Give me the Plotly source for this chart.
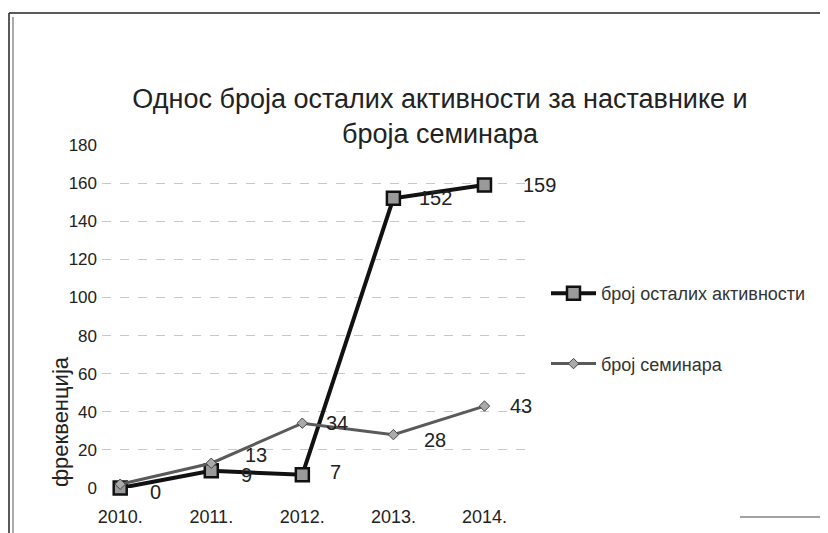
import plotly.graph_objects as go

years = ["2010.", "2011.", "2012.", "2013.", "2014."]
activities = [0, 9, 7, 152, 159]
seminars = [2, 13, 34, 28, 43]
activities_labels = ["0", "9", "7", "152", "159"]
seminars_labels = ["", "13", "34", "28", "43"]
y_ticks = [0, 20, 40, 60, 80, 100, 120, 140, 160, 180]

# label offsets (pixels) from each point
act_shift = [(35, -4), (35, -4), (33, 3), (42, 0), (55, 0)]
sem_shift = [(35, 0), (45, 8), (35, 0), (42, -5), (37, 0)]

W, H = 828, 533
OFF = 8  # page body margin: figure starts 8px in from the page corner
L, R, T, B = 102 - OFF, 530 - OFF, 145 - OFF, 488 - OFF


def px_x(p):
    return (p - OFF - L) / (R - L)


def px_y(p):
    return (B - (p - OFF)) / (B - T)


FONT = "Liberation Sans, Arial"

fig = go.Figure()
fig.add_trace(go.Scatter(
    x=years, y=activities, name="број осталих активности",
    mode="lines+markers",
    line=dict(color="#111", width=4),
    marker=dict(symbol="square", size=13, color="#9a9a9a", line=dict(color="#111", width=2.5)),
    legendgroup="a", cliponaxis=False,
))
fig.add_trace(go.Scatter(
    x=years, y=seminars, name="број семинара",
    mode="lines+markers",
    line=dict(color="#5a5a5a", width=3),
    marker=dict(symbol="diamond", size=8, color="#aaa", line=dict(color="#444", width=1)),
    legendgroup="b", cliponaxis=False,
))

annotations = []
for ys, labels, shifts in [(activities, activities_labels, act_shift),
                           (seminars, seminars_labels, sem_shift)]:
    for i, (yv, lab, (dx, dy)) in enumerate(zip(ys, labels, shifts)):
        if not lab:
            continue
        annotations.append(dict(
            x=i, y=yv, xref="x", yref="y", text=lab, showarrow=False,
            xanchor="center", yanchor="middle", xshift=dx, yshift=dy,
            font=dict(family=FONT, size=20, color="#222"),
        ))

annotations.append(dict(
    text="фреквенција", xref="paper", yref="paper", x=px_x(60), y=px_y(422),
    xanchor="center", yanchor="middle", textangle=-90, showarrow=False,
    font=dict(family=FONT, size=22, color="#222"),
))

shapes = [
    dict(type="line", xref="paper", yref="paper", x0=px_x(9), x1=px_x(9), y0=px_y(13), y1=px_y(541),
         line=dict(color="#222", width=1.5)),
    dict(type="line", xref="paper", yref="paper", x0=px_x(13), x1=px_x(13), y0=px_y(17), y1=px_y(541),
         line=dict(color="#555", width=1)),
    dict(type="line", xref="paper", yref="paper", x0=px_x(9), x1=px_x(840), y0=px_y(13), y1=px_y(13),
         line=dict(color="#222", width=1.5)),
    dict(type="line", xref="paper", yref="paper", x0=px_x(740), x1=px_x(840), y0=px_y(517), y1=px_y(517),
         line=dict(color="#444", width=1)),
]

fig.update_layout(
    width=W, height=H,
    margin=dict(l=L, r=W - R, t=T, b=H - B),
    paper_bgcolor="white", plot_bgcolor="white",
    font=dict(family=FONT, color="#222"),
    title=dict(
        text="Однос броја осталих активности за наставнике и<br>броја семинара",
        x=(440 - OFF) / W, xanchor="center", y=1 - 100 / H, yanchor="middle",
        font=dict(size=27, color="#222"),
    ),
    xaxis=dict(
        type="category", range=[-0.2, 4.5], showgrid=False, showline=False, zeroline=False,
        tickfont=dict(size=18, color="#222"), ticks="", ticklabelstandoff=16,
    ),
    yaxis=dict(
        range=[0, 180], tickvals=y_ticks, showgrid=True, gridcolor="#c8c8c8", griddash="dash",
        gridwidth=1, zeroline=False, showline=False, tickfont=dict(size=17, color="#222"),
        ticklabelstandoff=4,
    ),
    legend=dict(
        x=px_x(546), y=px_y(275), xanchor="left", yanchor="top",
        font=dict(size=18, color="#333"), tracegroupgap=44, traceorder="grouped",
        itemwidth=45, bgcolor="rgba(0,0,0,0)",
    ),
    shapes=shapes,
    annotations=annotations,
)

fig.write_html("out.html")
